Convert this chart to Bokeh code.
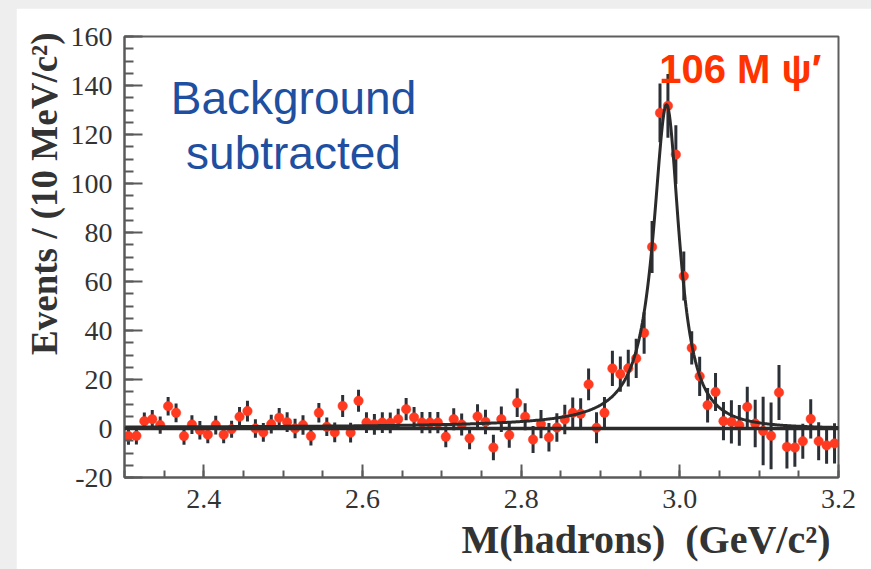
import numpy as np
from bokeh.plotting import figure
from bokeh.models import (Range1d, SingleIntervalTicker, PrintfTickFormatter,
                          Span, Label, Title, ColumnDataSource)
from bokeh.layouts import column
from bokeh.embed import file_html
from bokeh.resources import INLINE

# ---- data: background-subtracted hadronic mass spectrum, 10 MeV bins ----
mass_low = 2.30
bin_width = 0.01

events = [
    -3.1, -3.0, 3.0, 3.8, 1.4, 9.1, 6.4, -3.1, 1.6, -0.7,
    -2.5, 1.4, -2.5, -0.3, 4.8, 7.1, 0.0, -1.6, 1.8, 4.4,
    2.6, 0.0, 1.4, -3.1, 6.4, 0.7, -1.6, 9.2, -1.7, 11.3,
    2.4, 1.7, 2.4, 2.3, 3.8, 7.9, 4.5, 2.4, 2.4, 2.4,
    -3.4, 3.8, 1.6, -4.0, 4.9, 2.7, -7.8, 3.8, -2.7, 10.5,
    4.8, -4.5, 1.8, -3.6, 0.4, 3.7, 6.4, 6.0, 18.0, 0.3,
    6.4, 24.5, 22.2, 24.6, 28.6, 39.0, 74.1, 128.8, 131.7, 111.8,
    62.2, 32.9, 21.3, 9.5, 14.9, 3.0, 2.7, 1.3, 8.8, 2.0,
    -1.0, -3.0, 14.7, -7.5, -7.8, -5.2, 3.9, -5.2, -6.9, -6.1,
]

errors = [
    3.5, 3.5, 3.5, 3.8, 3.5, 3.8, 3.8, 3.5, 3.8, 3.8,
    3.5, 3.8, 3.5, 3.5, 4.0, 4.2, 3.8, 3.8, 3.8, 4.0,
    4.0, 4.0, 4.0, 3.8, 4.0, 3.8, 4.0, 4.5, 4.0, 4.5,
    4.2, 4.2, 4.2, 4.2, 4.3, 4.5, 4.3, 4.3, 4.3, 4.3,
    4.3, 4.5, 4.5, 4.5, 5.0, 5.0, 5.2, 5.2, 5.2, 5.8,
    5.5, 5.5, 5.8, 5.8, 5.8, 6.0, 6.3, 6.3, 6.5, 6.3,
    6.5, 7.2, 7.2, 7.5, 8.0, 8.5, 10.6, 12.0, 13.0, 12.0,
    10.0, 6.8, 8.0, 7.0, 7.8, 7.8, 8.8, 8.3, 8.2, 9.7,
    14.0, 13.6, 11.2, 8.8, 7.8, 7.1, 8.0, 7.8, 7.5, 8.2,
]

mass = [round(mass_low + bin_width * (i + 0.5), 3) for i in range(len(events))]

# ---- fitted eta_c line shape (Breit-Wigner x E_gamma^3) ----
fit_mass = 2.984       # GeV
fit_width = 0.040      # GeV
fit_amplitude = 132.0  # events / 10 MeV
psi2s_mass = 3.686     # GeV


def photon_energy(m):
    return (psi2s_mass ** 2 - m ** 2) / (2.0 * psi2s_mass)


def fit_shape(m):
    half = fit_width / 2.0
    bw = half ** 2 / ((m - fit_mass) ** 2 + half ** 2)
    phase = (photon_energy(m) / photon_energy(fit_mass)) ** 3
    return fit_amplitude * bw * phase


x_range = (2.30, 3.20)
y_range = (-20, 160)

fit_x = np.linspace(x_range[0], x_range[1], 900)
fit_y = fit_shape(fit_x)

src = ColumnDataSource(dict(
    m=mass,
    n=events,
    lo=[v - e for v, e in zip(events, errors)],
    hi=[v + e for v, e in zip(events, errors)],
))

# ---- figure ----
p = figure(width=855, height=561,
           x_range=Range1d(*x_range), y_range=Range1d(*y_range),
           output_backend="svg", toolbar_location=None,
           min_border_left=108, min_border_right=33,
           min_border_top=28, min_border_bottom=92)
p.margin = (8, 0, 0, 16)
p.background_fill_color = "white"
p.border_fill_color = "white"
p.outline_line_color = "#5e5e5e"
p.outline_line_width = 2
p.grid.visible = False

serif = "Liberation Serif"
tick_color = "#5a5a5a"

p.xaxis.ticker = SingleIntervalTicker(interval=0.2, num_minor_ticks=4)
p.xaxis.formatter = PrintfTickFormatter(format="%.1f")
p.yaxis.ticker = SingleIntervalTicker(interval=20, num_minor_ticks=4)
p.yaxis.formatter = PrintfTickFormatter(format="%d")

for ax in (p.xaxis[0], p.yaxis[0]):
    ax.axis_line_color = tick_color
    ax.axis_line_width = 2
    ax.major_tick_line_color = tick_color
    ax.minor_tick_line_color = tick_color
    ax.major_tick_line_width = 2
    ax.minor_tick_line_width = 2
    ax.major_tick_out = 0
    ax.minor_tick_out = 0
    ax.major_label_text_font = serif
    ax.major_label_text_font_size = "28px"
    ax.major_label_text_color = "#333333"
    ax.major_label_standoff = 12

p.yaxis.major_tick_in = 18
p.yaxis.minor_tick_in = 9
p.xaxis.major_tick_in = 13
p.xaxis.minor_tick_in = 7

# axis titles, pinned to the frame ends
p.add_layout(Title(text="Events / (10 MeV/c\u00b2)", align="right", offset=-4,
                   standoff=6, text_font=serif, text_font_size="37px",
                   text_font_style="bold", text_color="#333333"), "left")
p.add_layout(Title(text="M(hadrons)\u2002(GeV/c\u00b2)", align="right", offset=8,
                   standoff=8, text_font=serif, text_font_size="40px",
                   text_font_style="bold", text_color="#333333"), "below")

# ---- data points with error bars ----
p.segment(x0="m", y0="lo", x1="m", y1="hi", source=src,
          line_color="#2b2f36", line_width=3)
p.scatter(x="m", y="n", source=src, size=9.5,
          fill_color="#ff3a20", line_color="#ff3a20", line_width=0.5)

# zero line and fit curve
p.add_layout(Span(location=0, dimension="width",
                  line_color="#2b2b2b", line_width=3.5))
p.line(fit_x, fit_y, line_color="#2b2b2b", line_width=3)

# ---- texts inside the frame ----
p.add_layout(Label(x=2.513, y=134.8, text="Background",
                   text_font="Liberation Sans", text_font_size="46px",
                   text_color="#1f4fa0", text_align="center",
                   text_baseline="alphabetic"))
p.add_layout(Label(x=2.513, y=112.3, text="subtracted",
                   text_font="Liberation Sans", text_font_size="46px",
                   text_color="#1f4fa0", text_align="center",
                   text_baseline="alphabetic"))
p.add_layout(Label(x=2.974, y=146.9, text="106 M \u03c8\u2032",
                   text_font="Liberation Sans", text_font_size="40px",
                   text_font_style="bold", text_color="#ff3300",
                   text_align="left", text_baseline="alphabetic"))

page = column(p, styles={"background-color": "#eeeeee"})

open("out.html", "w").write(file_html(page, INLINE))
